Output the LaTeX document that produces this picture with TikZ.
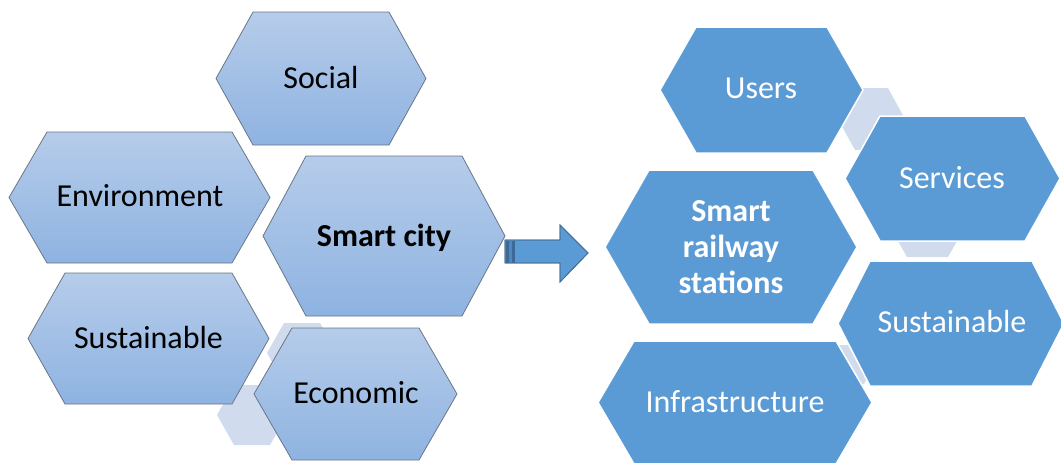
\documentclass[tikz,border=0pt]{standalone}
\usepackage{fontspec}
\setmainfont{Carlito}
\definecolor{lhtop}{RGB}{182,204,234}
\definecolor{lhbot}{RGB}{142,179,225}
\definecolor{lhline}{RGB}{105,118,135}
\definecolor{rhfill}{RGB}{91,155,213}
\definecolor{ghostc}{RGB}{208,220,238}
\definecolor{arrline}{RGB}{65,113,156}
\definecolor{stripedark}{RGB}{62,105,150}
\definecolor{stripemid}{RGB}{80,136,190}
% hexagon: style, left x, right x, top y, bottom y, inset
\newcommand\hexpath[6]{%
  \path[#1] (#2,{(#4+#5)/2}) -- ({#2+#6},#4) -- ({#3-#6},#4) -- (#3,{(#4+#5)/2})
    -- ({#3-#6},#5) -- ({#2+#6},#5) -- cycle;}
\tikzset{
  lefthex/.style={draw=lhline, line width=0.8pt, top color=lhtop, bottom color=lhbot},
  righthex/.style={fill=rhfill, draw=white, line width=1.5pt},
  ghost/.style={fill=ghostc},
  lbl/.style={font=\fontsize{32}{36}\selectfont, anchor=base, inner sep=0pt},
  llbl/.style={lbl, text=black},
  rlbl/.style={lbl, text=white},
  blockarrow/.style={fill=rhfill, draw=arrline, line width=0.8pt, line join=miter}
}
\begin{document}
\begin{tikzpicture}[x=1pt,y=-1pt]
\useasboundingbox (0,0) rectangle (1061,463);
% ghost hexagons (background)
\hexpath{ghost}{267}{337}{323}{383}{17}
\hexpath{ghost}{217}{287}{385}{445}{17}
\hexpath{ghost}{838}{905}{88}{150}{17}
\hexpath{ghost}{890}{965}{197}{257}{17}
\hexpath{ghost}{815}{875}{345}{384}{11}
% left hexagons
\hexpath{lefthex}{216}{426}{12}{145}{37}
\hexpath{lefthex}{9}{270}{132}{263}{38}
\hexpath{lefthex}{263}{505}{156}{316}{43}
\hexpath{lefthex}{28}{269}{273}{404}{37}
\hexpath{lefthex}{254}{457}{328}{460}{38}
% right hexagons
\hexpath{righthex}{660}{863}{27}{153}{36}
\hexpath{righthex}{605}{857}{170}{324}{44}
\hexpath{righthex}{845}{1060}{116}{241}{35}
\hexpath{righthex}{838}{1064}{261}{386}{32}
\hexpath{righthex}{598}{872}{341}{464}{36}
% labels
\node[llbl] (social) at (321,88) {Social};
\node[llbl] (env) at (140,206) {Environment};
\node[llbl, font=\fontsize{32}{36}\selectfont\bfseries] (smartcity) at (384,246) {Smart city};
\node[llbl] (sustL) at (148.5,348) {Sustainable};
\node[llbl] (econ) at (356,403) {Economic};
\node[rlbl] (users) at (761,98) {Users};
\node[rlbl, anchor=center, align=center, font=\fontsize{32}{36}\selectfont\bfseries] (srs) at (731,247) {Smart\\railway\\stations};
\node[rlbl] (services) at (952,188) {Services};
\node[rlbl] (sustR) at (952,332) {Sustainable};
\node[rlbl] (infra) at (735,412) {Infrastructure};
% block arrow
\coordinate (a0) at (505,240);
\coordinate (a1) at (560,240);
\coordinate (a2) at (560,225);
\coordinate (tip) at (588,253);
\coordinate (a3) at (560,282);
\coordinate (a4) at (560,263);
\coordinate (a5) at (505,263);
\path[blockarrow] (a0) -- (a1) -- (a2) -- (tip) -- (a3) -- (a4) -- (a5) -- cycle;
\fill[stripedark] (506,240.5) rectangle (509,262.5);
\fill[stripemid] (509,240.5) rectangle (512,262.5);
\fill[stripedark] (512,240.5) rectangle (515,262.5);
\draw[arrline, line width=0.8pt, line join=miter] (a0) -- (a1) -- (a2) -- (tip) -- (a3) -- (a4) -- (a5) -- cycle;
\end{tikzpicture}
\end{document}
